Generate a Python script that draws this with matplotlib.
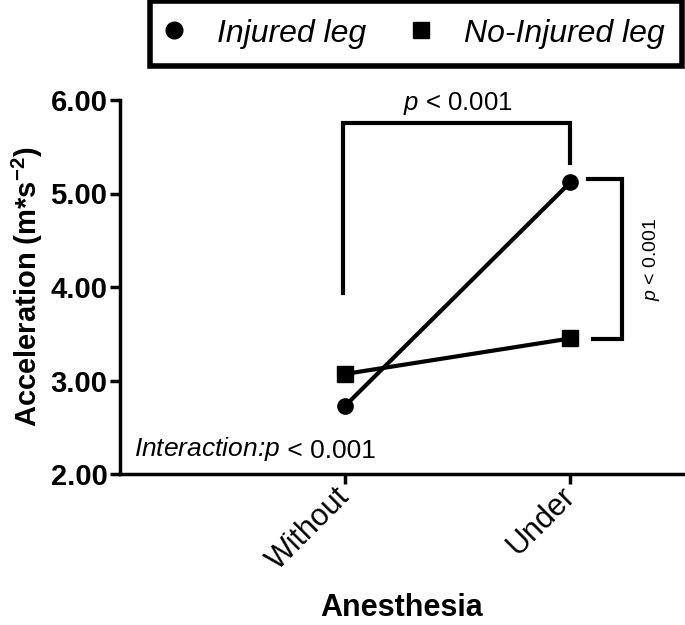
import matplotlib
matplotlib.use("Agg")
import matplotlib.pyplot as plt
from matplotlib.lines import Line2D

plt.rcParams['font.family'] = ['Liberation Sans', 'DejaVu Sans']
plt.rcParams['mathtext.fontset'] = 'custom'
plt.rcParams['mathtext.rm'] = 'Liberation Sans'
plt.rcParams['mathtext.it'] = 'Liberation Sans:italic'
plt.rcParams['mathtext.bf'] = 'Liberation Sans:bold'

categories = ["Without", "Under"]
injured = [2.73, 5.12]
no_injured = [3.07, 3.45]
y_ticks = [2.00, 3.00, 4.00, 5.00, 6.00]
y_tick_labels = ["2.00", "3.00", "4.00", "5.00", "6.00"]

fig = plt.figure(figsize=(6.85, 6.25), dpi=100)
ax = fig.add_axes([120/685, 1-474/625, (683-120)/685, (474-100)/625])

x = list(range(len(categories)))
ax.plot(x, injured, color='black', lw=3, marker='o', ms=11, zorder=3)
ax.plot(x, no_injured, color='black', lw=3, marker='s', ms=11, zorder=3)

ax.set_xlim(-1.0, 1.5)
ax.set_ylim(2.0, 6.0)
ax.set_yticks(y_ticks)
ax.set_yticklabels(y_tick_labels, fontsize=21, fontweight='bold')
ax.set_xticks(x)
ax.set_xticklabels(categories, fontsize=22, rotation=45, ha='right', va='center',
                   rotation_mode='anchor')
for s in ['top', 'right']:
    ax.spines[s].set_visible(False)
for s in ['left', 'bottom']:
    ax.spines[s].set_linewidth(2.5)
ax.tick_params(axis='both', width=2.5, length=7, direction='out')
ax.tick_params(axis='x', pad=6)
ax.tick_params(axis='y', pad=2)

ax.set_ylabel("Acceleration (m*s$^{\\mathbf{-2}}$)", fontsize=21, fontweight='bold', labelpad=4)
ax.set_xlabel("Anesthesia", fontsize=22, fontweight='bold', va='center')
ax.xaxis.set_label_coords(0.5, (474-608)/374)

# top bracket
ax.plot([-0.01, -0.01, 1.0, 1.0], [3.94, 5.75, 5.75, 5.33], color='black', lw=3,
        solid_joinstyle='miter', clip_on=False)
ax.text(0.5, 5.82, "$\\it{p}$ < 0.001", ha='center', va='bottom', fontsize=18.5)
# right bracket
ax.plot([1.08, 1.23, 1.23, 1.10], [5.15, 5.15, 3.44, 3.44], color='black', lw=3,
        solid_joinstyle='miter', clip_on=False)
ax.text(1.36, 4.3, "$\\it{p}$ < 0.001", ha='center', va='center', rotation=90, fontsize=14)
# interaction
ax.text(-0.94, 2.12, "Interaction:$\\it{p}$", fontsize=19, ha='left', va='bottom',
        style='italic')

handles = [Line2D([], [], color='black', marker='o', ls='none', ms=12),
           Line2D([], [], color='black', marker='s', ls='none', ms=11)]
leg = fig.legend(handles, ["Injured leg", "No-Injured leg"], loc='upper left',
                 bbox_to_anchor=(150/685, 1-1/625), ncol=2, frameon=True, fancybox=False,
                 prop={'style': 'italic', 'size': 23}, handletextpad=1.15, columnspacing=1.5,
                 borderpad=0.55, handlelength=0.4, edgecolor='black', borderaxespad=0,
                 framealpha=1)
leg.get_frame().set_linewidth(4)

fig.canvas.draw()
t = ax.texts[-1]
bb = t.get_window_extent()
inv = ax.transData.inverted()
x_end = inv.transform((bb.x1, bb.y0))[0]
ax.text(x_end, 2.12, " < 0.001", fontsize=19, ha='left', va='bottom')

fig.savefig("out.png", dpi=100)
